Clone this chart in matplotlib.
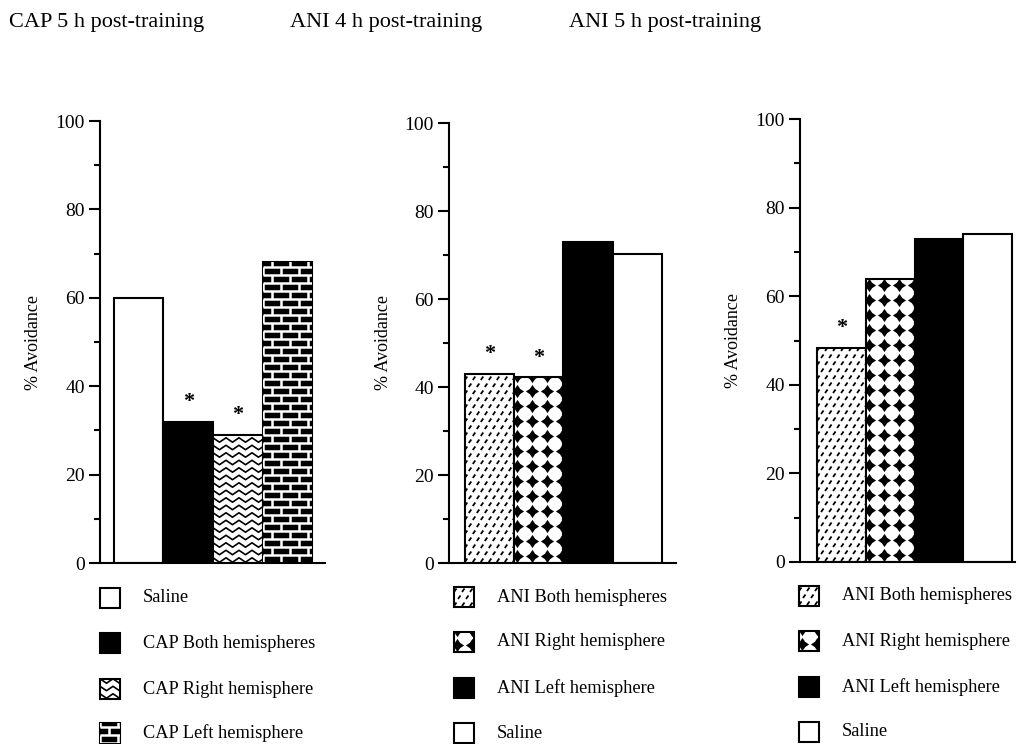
import numpy as np
import matplotlib
matplotlib.use("Agg")
import matplotlib.pyplot as plt
from matplotlib.collections import LineCollection
from matplotlib.path import Path

plt.rcParams['font.family'] = ['Liberation Serif', 'DejaVu Serif']

W, H = 1019, 744

# --- data -------------------------------------------------------------
titles = ['CAP 5 h post-training', 'ANI 4 h post-training', 'ANI 5 h post-training']

cap_labels = ['Saline', 'CAP Both hemispheres', 'CAP Right hemisphere', 'CAP Left hemisphere']
cap_values = [60, 32, 29, 68]
cap_styles = ['white', 'black', 'zigzag', 'brick']
cap_stars = [False, True, True, False]

ani4_labels = ['ANI Both hemispheres', 'ANI Right hemisphere', 'ANI Left hemisphere', 'Saline']
ani4_values = [43, 42.2, 72.9, 70.2]
ani4_styles = ['dash', 'diamond', 'black', 'white']
ani4_stars = [True, True, False, False]

ani5_labels = ['ANI Both hemispheres', 'ANI Right hemisphere', 'ANI Left hemisphere', 'Saline']
ani5_values = [48.3, 63.9, 72.9, 74.1]
ani5_styles = ['dash', 'diamond', 'black', 'white']
ani5_stars = [True, False, False, False]

yticks = [0, 20, 40, 60, 80, 100]

# layout in pixels: axes box (left, top, right, bottom), xlim, ylabel x, legend icon x, text x
panels = [
    dict(box=(100, 121, 325, 563), xlim=(-0.78, 3.76), ylab=-0.258, icon=100, tx=143,
         rows=[598, 643, 689, 733]),
    dict(box=(449, 123, 676, 563), xlim=(-0.82, 3.78), ylab=-0.251, icon=454, tx=497,
         rows=[597, 642, 688, 733]),
    dict(box=(800, 119, 1015, 562), xlim=(-0.85, 3.56), ylab=-0.27, icon=799, tx=842,
         rows=[596, 641, 687, 732]),
]
title_x = [9, 290, 569]

# concave four-point diamond used in the "Right hemisphere" pattern
c = 0.4
diamond = Path([(0, 1), (c, c), (1, 0), (c, -c), (0, -1), (-c, -c), (-1, 0), (-c, c), (0, 1)],
               [Path.MOVETO] + [Path.LINETO] * 7 + [Path.CLOSEPOLY])


def px_units(ax):
    bb = ax.get_position()
    x0, x1 = ax.get_xlim()
    y0, y1 = ax.get_ylim()
    return (x1 - x0) / (bb.width * W), (y1 - y0) / (bb.height * H)


def fill_pattern(ax, bar, style):
    ux, uy = px_units(ax)
    x0, y0 = bar.get_x(), bar.get_y()
    x1, y1 = x0 + bar.get_width(), y0 + bar.get_height()
    bar.set_edgecolor('black')
    bar.set_facecolor('black' if style in ('black', 'brick') else 'white')
    arts = []
    if style == 'zigzag':
        step = 6.5 * ux
        xs = np.arange(x0 - step, x1 + 2 * step, step)
        segs = []
        for yc in np.arange(y0 + 3 * uy, y1 + 4 * uy, 7.5 * uy):
            ys = yc + np.where(np.arange(len(xs)) % 2 == 0, -2.2, 2.2) * uy
            segs.append(np.column_stack([xs, ys]))
        arts.append(LineCollection(segs, colors='black', linewidths=1.2))
    elif style == 'brick':
        rh, bw = 8 * uy, 18 * ux
        segs = []
        for k, yk in enumerate(np.arange(y0, y1, rh)):
            segs.append([(x0, yk), (x1, yk)])
            off = (k % 2) * bw / 2
            for xj in np.arange(x0 + off - bw, x1 + bw, bw):
                segs.append([(xj, yk), (xj, yk + rh)])
        arts.append(LineCollection(segs, colors='white', linewidths=1.8))
    elif style == 'dash':
        segs = []
        for r, yr in enumerate(np.arange(y0 + 1 * uy, y1, 7 * uy)):
            shift = (r * 4) % 8
            for xc in np.arange(x0 - 8 * ux + shift * ux, x1 + 8 * ux, 8 * ux):
                segs.append([(xc, yr), (xc + 2.5 * ux, yr + 3.5 * uy)])
        arts.append(LineCollection(segs, colors='black', linewidths=1.3))
    elif style == 'diamond':
        xs = np.arange(x0 + 3 * ux, x1 + 8 * ux, 15 * ux)
        ys = np.arange(y0 + 7 * uy, y1 + 8 * uy, 15 * uy)
        gx, gy = np.meshgrid(xs, ys)
        line, = ax.plot(gx.ravel(), gy.ravel(), ls='none', marker=diamond,
                        markersize=9.5, color='black', markeredgewidth=0)
        arts.append(line)
    for a in arts:
        if not a.axes:
            ax.add_collection(a, autolim=False)
        a.set_clip_path(bar)


fig = plt.figure(figsize=(W / 100, H / 100), dpi=100)

panel_data = [
    (cap_labels, cap_values, cap_styles, cap_stars),
    (ani4_labels, ani4_values, ani4_styles, ani4_stars),
    (ani5_labels, ani5_values, ani5_styles, ani5_stars),
]

for i, (p, (labels, values, styles, stars)) in enumerate(zip(panels, panel_data)):
    l, t, r, b = p['box']
    ax = fig.add_axes([l / W, 1 - b / H, (r - l) / W, (b - t) / H])
    ax.set_xlim(*p['xlim'])
    ax.set_ylim(0, 100)
    ax.autoscale(False)
    x = np.arange(len(values))
    bars = ax.bar(x, values, width=1.0, linewidth=1.5, edgecolor='black', zorder=2)
    for bar, st in zip(bars, styles):
        fill_pattern(ax, bar, st)
    for xi, v, s in zip(x, values, stars):
        if s:
            ax.text(xi, v + 4.5, '*', ha='center', va='center', fontsize=16,
                    fontweight='bold')

    for side in ('top', 'right'):
        ax.spines[side].set_visible(False)
    for side in ('left', 'bottom'):
        ax.spines[side].set_linewidth(1.5)
    ax.set_xticks([])
    ax.set_yticks(yticks)
    ax.set_yticks(np.arange(10, 100, 20), minor=True)
    ax.tick_params(axis='y', which='major', length=8, width=1.5, labelsize=14, pad=3)
    ax.tick_params(axis='y', which='minor', length=4, width=1.5)
    ax.set_ylabel('% Avoidance', fontsize=13)
    ax.yaxis.set_label_coords(p['ylab'], 0.5)

    fig.text(title_x[i] / W, 1 - 22 / H, titles[i], fontsize=16, ha='left', va='center')

    # legend: small patterned squares with labels
    for lab, st, yc in zip(labels, styles, p['rows']):
        iax = fig.add_axes([p['icon'] / W, 1 - (yc + 10) / H, 20 / W, 20 / H])
        iax.set_xlim(0, 1)
        iax.set_ylim(0, 1)
        iax.autoscale(False)
        iax.axis('off')
        ib = iax.bar([0.5], [1], width=1.0, bottom=0, linewidth=1.5, edgecolor='black',
                     clip_on=False)
        fill_pattern(iax, ib[0], st)
        fig.text(p['tx'] / W, 1 - yc / H, lab, fontsize=13.2, ha='left', va='center')

fig.savefig('out.png', dpi=100)
